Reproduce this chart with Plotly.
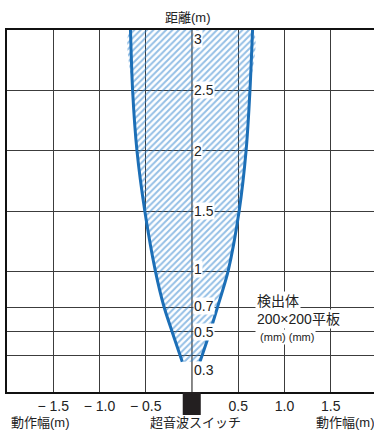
import plotly.graph_objects as go

# ---- data ----
distance_m = [0.25, 0.5, 0.7, 1.0, 1.5, 2.0, 2.5, 3.0]
left_edge_m = [-0.105, -0.215, -0.30, -0.395, -0.51, -0.595, -0.642, -0.665]
right_edge_m = [0.086, 0.195, 0.275, 0.39, 0.51, 0.585, 0.627, 0.655]

x_tick_vals = [-1.5, -1.0, -0.5, 0.5, 1.0, 1.5]
x_tick_text = ["\u2212 1.5", "\u2212 1.0", "\u2212 0.5", "0.5", "1.0", "1.5"]
y_tick_vals = [3, 2.5, 2, 1.5, 1, 0.7, 0.5, 0.3]
y_tick_text = ["3", "2.5", "2", "1.5", "1", "0.7", "0.5", "0.3"]
y_label_shift = [-9, 0, 0, 0, 2, 2, 0, -14]

title_text = "距離(m)"
width_label = "動作幅(m)"
sensor_label = "超音波スイッチ"
target_lines = ["検出体", "200×200平板", "<span style='font-size:11px'>\u00a0(mm) (mm)</span>"]
target_y = [0.757, 0.605, 0.458]

FONT = "Liberation Sans, Noto Sans CJK JP, sans-serif"
BLUE = "#1c6fb7"
HATCH = "#2a80cc"
TXT = "#222222"
GRID = "#3c3c3c"

fig = go.Figure()

# hatched detection zone
poly_x = left_edge_m + right_edge_m[::-1]
poly_y = distance_m + distance_m[::-1]
fig.add_trace(go.Scatter(
    x=poly_x, y=poly_y, mode="lines", fill="toself",
    line=dict(width=0, color=BLUE, shape="spline", smoothing=0.7),
    fillcolor="rgba(0,0,0,0)",
    fillpattern=dict(shape="/", size=4.5, solidity=0.45, fgcolor=HATCH, bgcolor="rgba(0,0,0,0)"),
    hoverinfo="skip", showlegend=False))

for xs in (left_edge_m, right_edge_m):
    fig.add_trace(go.Scatter(
        x=xs, y=distance_m, mode="lines",
        line=dict(width=3, color=BLUE, shape="spline", smoothing=0.7),
        hoverinfo="skip", showlegend=False))

annotations = []
for v, t, s in zip(y_tick_vals, y_tick_text, y_label_shift):
    annotations.append(dict(x=0, y=v, xref="x", yref="y", text=t, showarrow=False,
                            xanchor="left", yanchor="middle", xshift=1, yshift=s,
                            bgcolor="white", borderpad=0,
                            font=dict(family=FONT, size=14, color=TXT)))
for t, yv in zip(target_lines, target_y):
    annotations.append(dict(x=0.68, y=yv, xref="x", yref="y", text=t, showarrow=False,
                            xanchor="left", yanchor="middle", bgcolor="white", borderpad=1,
                            font=dict(family=FONT, size=14, color=TXT)))
annotations.append(dict(x=0, y=1, xref="x", yref="paper", text=title_text, showarrow=False,
                        xanchor="center", yanchor="middle", xshift=-4, yshift=13,
                        font=dict(family=FONT, size=13, color=TXT)))
annotations.append(dict(x=0, y=0, xref="x", yref="paper", text=sensor_label, showarrow=False,
                        xanchor="center", yanchor="middle", xshift=4, yshift=-30,
                        font=dict(family=FONT, size=13, color=TXT)))
annotations.append(dict(x=0.005, y=0, xref="paper", yref="paper", text=width_label, showarrow=False,
                        xanchor="left", yanchor="middle", yshift=-30,
                        font=dict(family=FONT, size=13, color=TXT)))
annotations.append(dict(x=0.836, y=0, xref="paper", yref="paper", text=width_label, showarrow=False,
                        xanchor="left", yanchor="middle", yshift=-30,
                        font=dict(family=FONT, size=13, color=TXT)))

shapes = [
    dict(type="line", xref="x", yref="paper", x0=0, x1=0, y0=0, y1=1,
         line=dict(color="#111111", width=1), layer="below"),
    dict(type="rect", xref="x", yref="paper", x0=-0.1, x1=0.095, y0=0, y1=-0.0635,
         line=dict(width=0), fillcolor="#231f20", layer="above"),
]

fig.update_layout(
    width=374, height=430,
    margin=dict(l=7, r=0, t=30, b=38),
    paper_bgcolor="white", plot_bgcolor="white",
    annotations=annotations, shapes=shapes,
    font=dict(family=FONT, color=TXT),
    xaxis=dict(range=[-2, 1.968], tickvals=x_tick_vals, ticktext=x_tick_text,
               showgrid=True, gridcolor=GRID, gridwidth=1, zeroline=False,
               showline=True, linecolor="#111111", linewidth=2, mirror=True,
               ticks="", tickfont=dict(family=FONT, size=14, color=TXT),
               fixedrange=True),
    yaxis=dict(range=[0, 3], tickvals=y_tick_vals, showticklabels=False,
               showgrid=True, gridcolor=GRID, gridwidth=1, zeroline=False,
               showline=True, linecolor="#111111", linewidth=2, mirror=False,
               ticks="", fixedrange=True),
)

fig.write_html("out.html", config={"displayModeBar": False},
               post_script="document.body.style.margin='0';document.body.style.overflow='hidden';")
